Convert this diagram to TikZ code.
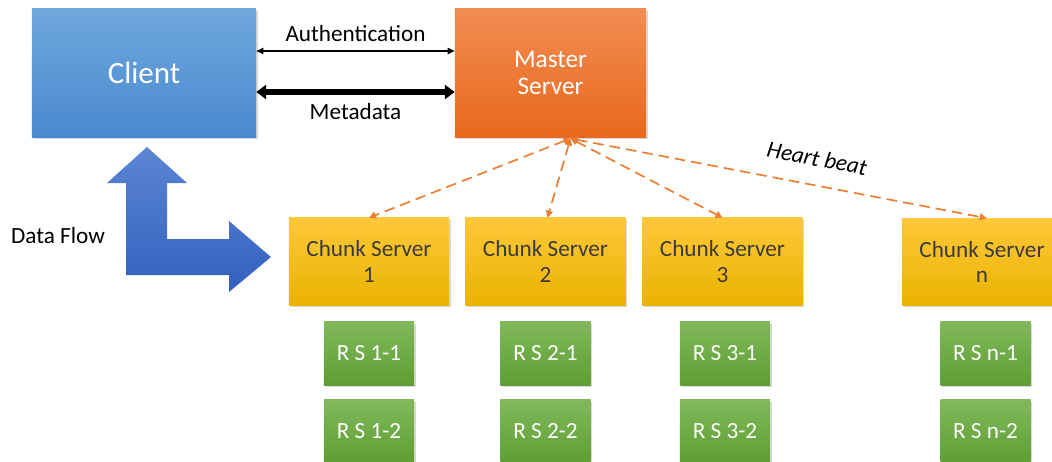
\documentclass[tikz,border=0pt]{standalone}
\usepackage{fontspec}
\setmainfont{Carlito}
\usetikzlibrary{arrows.meta,shadows}

\definecolor{clienttop}{HTML}{6FA8DC}
\definecolor{clientbot}{HTML}{4A89CF}
\definecolor{mastertop}{HTML}{F28C52}
\definecolor{masterbot}{HTML}{E8691D}
\definecolor{chunktop}{HTML}{FFC83A}
\definecolor{chunkbot}{HTML}{EAB300}
\definecolor{rstop}{HTML}{80B95B}
\definecolor{rsbot}{HTML}{5E9E33}
\definecolor{flowtop}{HTML}{5B86D2}
\definecolor{flowbot}{HTML}{3360BF}
\definecolor{beat}{HTML}{ED7D31}
\definecolor{chunktext}{HTML}{3B3B3B}

\tikzset{
  box/.style={rectangle, inner sep=0pt, align=center,
    font=\fontsize{16.5}{18}\selectfont,
    drop shadow={opacity=0.3, shadow xshift=1.2pt, shadow yshift=-1.2pt}},
  clientbox/.style={box, minimum width=5.6cm, minimum height=3.2cm,
    top color=clienttop, bottom color=clientbot, text=white,
    font=\fontsize{22}{26}\selectfont},
  masterbox/.style={box, minimum width=4.775cm, minimum height=3.2cm,
    top color=mastertop, bottom color=masterbot, text=white,
    font=\fontsize{18}{19.5}\selectfont},
  chunkbox/.style={box, minimum width=4cm, minimum height=2.175cm,
    top color=chunktop, bottom color=chunkbot, text=chunktext},
  rsbox/.style={box, minimum width=2.25cm, minimum height=1.575cm,
    top color=rstop, bottom color=rsbot, text=white},
  label/.style={font=\fontsize{16.5}{18}\selectfont, inner sep=0pt, text=black},
  authline/.style={line width=0.9pt, {Triangle[length=5pt,width=4.5pt]}-{Triangle[length=5pt,width=4.5pt]}},
  metaline/.style={line width=4.2pt, {Triangle[length=7pt,width=10pt]}-{Triangle[length=7pt,width=10pt]}},
  beatline/.style={beat, line width=1.2pt, dash pattern=on 7.5pt off 4.3pt,
    {Triangle[length=5pt,width=5pt]}-{Triangle[length=5pt,width=5pt]}}
}

\begin{document}
\begin{tikzpicture}[x=0.025cm, y=-0.025cm]
  \useasboundingbox (0,0) rectangle (1052,461);

  \node[clientbox] (client) at (144,73) {Client};
  \node[masterbox] (master) at (550.5,73) {Master\\Server};

  \draw[authline] ([yshift=0.55cm]client.east) -- ([yshift=0.55cm]master.west)
    node [label, midway, yshift=0.425cm] {Authentication};
  \draw[metaline] ([yshift=-0.475cm]client.east) -- ([yshift=-0.475cm]master.west)
    node [label, midway, yshift=-0.5cm] {Metadata};

  \node[chunkbox] (cs1) at (369,261.5) {Chunk Server\\1};
  \node[chunkbox] (cs2) at (545.5,261.5) {Chunk Server\\2};
  \node[chunkbox] (cs3) at (722.5,261.5) {Chunk Server\\3};
  \node[chunkbox] (csn) at (982,262) {Chunk Server\\n};

  \node[rsbox] (rs11) at (369,353.5) {R S 1-1};
  \node[rsbox] (rs12) at (369,431.5) {R S 1-2};
  \node[rsbox] (rs21) at (545.5,353.5) {R S 2-1};
  \node[rsbox] (rs22) at (545.5,431.5) {R S 2-2};
  \node[rsbox] (rs31) at (725,353.5) {R S 3-1};
  \node[rsbox] (rs32) at (725,431.5) {R S 3-2};
  \node[rsbox] (rsn1) at (985.5,353.5) {R S n-1};
  \node[rsbox] (rsn2) at (985.5,431.5) {R S n-2};

  \coordinate (hub) at ([xshift=0.5cm, yshift=-0.03cm]master.south);
  \draw[beatline] (hub) -- (cs1.north);
  \draw[beatline] (hub) -- ([xshift=0.05cm]cs2.north);
  \draw[beatline] (hub) -- (cs3.north);
  \draw[beatline] (hub) -- ([xshift=0.12cm]csn.north)
    node [label, pos=0.58, sloped, above=0.45cm] {\itshape Heart beat};

  \shade[top color=flowtop, bottom color=flowbot]
    (147,147) -- (187,183) -- (167,183) -- (167,239) -- (229,239) -- (229,221)
    -- (271,257) -- (229,292) -- (229,275) -- (126,275) -- (126,183)
    -- (107,183) -- cycle;
  \node[label] (flow) at (58,236) {Data Flow};
\end{tikzpicture}
\end{document}
